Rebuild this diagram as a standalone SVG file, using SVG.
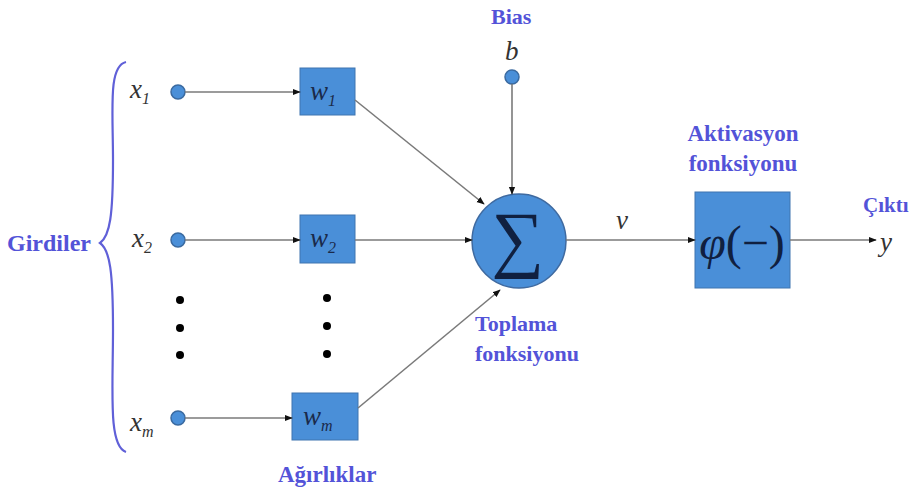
<svg xmlns="http://www.w3.org/2000/svg" width="917" height="495" viewBox="0 0 917 495">
<defs>
<style>
.lbl{font-family:'Liberation Serif','Times New Roman','DejaVu Serif',serif;font-weight:bold;fill:#5353d8;font-size:23px}
.math{font-family:'Liberation Serif','Times New Roman','DejaVu Serif',serif;font-style:italic;fill:#333;font-size:27px}
.sub{font-size:16px}
.box{fill:#4a8fd8;stroke:#3f74b0;stroke-width:1}
.in{fill:#4a8fd8;stroke:#3a6aa0;stroke-width:1.5}
.conn{stroke:#7a7a7a;stroke-width:1.6;fill:none;marker-end:url(#ah)}
.dot{fill:#000}
</style>
<marker id="ah" viewBox="0 0 10 10" refX="9" refY="5" markerWidth="5" markerHeight="5" orient="auto">
<path d="M0,1 L10,5 L0,9 z" fill="#111"/>
</marker>
</defs>
<rect width="917" height="495" fill="#fff"/>
<g id="girdiler">
<path d="M126,62 C108,66 113,110 113,160 C113,215 110,236 100,243 C110,250 113,272 113,330 C113,390 108,446 126,452" fill="none" stroke="#6060d8" stroke-width="2.2"/>
<text class="lbl" x="7" y="251" style="font-size:24px">Girdiler</text>
</g>
<g id="x1"><text class="math" x="130" y="98">x<tspan class="sub" dy="6">1</tspan></text><circle class="in" cx="178" cy="92" r="7"/></g>
<g id="x2"><text class="math" x="132" y="247">x<tspan class="sub" dy="6">2</tspan></text><circle class="in" cx="178" cy="240" r="7"/></g>
<g id="xm"><text class="math" x="130" y="431">x<tspan class="sub" dy="6">m</tspan></text><circle class="in" cx="178" cy="418" r="7"/></g>
<g id="dots1"><circle class="dot" cx="180" cy="300" r="4"/><circle class="dot" cx="180" cy="328" r="4"/><circle class="dot" cx="180" cy="355" r="4"/></g>
<g id="dots2"><circle class="dot" cx="327" cy="298" r="4"/><circle class="dot" cx="327" cy="326" r="4"/><circle class="dot" cx="327" cy="354" r="4"/></g>
<g id="w1"><rect class="box" x="300" y="68" width="55" height="47"/><text class="math" x="310" y="100" style="fill:#1a2a4a">w<tspan class="sub" dy="6">1</tspan></text></g>
<g id="w2"><rect class="box" x="300" y="215" width="55" height="48"/><text class="math" x="310" y="247" style="fill:#1a2a4a">w<tspan class="sub" dy="6">2</tspan></text></g>
<g id="wm"><rect class="box" x="292" y="393" width="66" height="47"/><text class="math" x="303" y="425" style="fill:#1a2a4a">w<tspan class="sub" dy="6">m</tspan></text></g>
<text class="lbl" x="278" y="482">Ağırlıklar</text>
<g id="bias"><text class="lbl" x="491" y="24" style="font-size:22px">Bias</text><text class="math" x="505" y="60">b</text><circle class="in" cx="512" cy="77" r="7"/></g>
<g id="sum"><circle cx="519" cy="241" r="47" fill="#4a8fd8" stroke="#3f6aa0" stroke-width="1.5"/><text x="518" y="263" text-anchor="middle" font-family="'Liberation Serif','DejaVu Serif',serif" font-size="74" fill="#102040">∑</text></g>
<text class="lbl" x="475" y="331" style="font-size:22px">Toplama</text>
<text class="lbl" x="475" y="361" style="font-size:22px">fonksiyonu</text>
<g id="act"><rect class="box" x="695" y="192" width="95" height="96"/><text x="742" y="259" text-anchor="middle" font-family="'Liberation Serif','DejaVu Serif',serif" font-size="48" fill="#102040"><tspan font-style="italic">φ</tspan>(−)</text></g>
<text class="lbl" x="743" y="141" text-anchor="middle">Aktivasyon</text>
<text class="lbl" x="743" y="171" text-anchor="middle">fonksiyonu</text>
<text class="math" x="616" y="229">v</text>
<text class="lbl" x="863" y="212" style="font-size:21px">Çıktı</text>
<text class="math" x="880" y="251">y</text>
<g id="connectors">
<line class="conn" x1="185" y1="92" x2="300" y2="92"/>
<line class="conn" x1="185" y1="240" x2="300" y2="240"/>
<line class="conn" x1="185" y1="418" x2="292" y2="418"/>
<line class="conn" x1="355" y1="100" x2="484" y2="204"/>
<line class="conn" x1="355" y1="240" x2="472" y2="240"/>
<line class="conn" x1="358" y1="408" x2="500" y2="290"/>
<line class="conn" x1="512" y1="84" x2="512" y2="194"/>
<line class="conn" x1="566" y1="240" x2="695" y2="240"/>
<line class="conn" x1="790" y1="240" x2="876" y2="240"/>
</g>
</svg>
